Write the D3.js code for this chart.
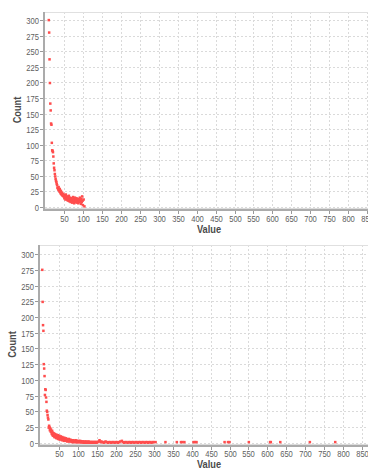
<!DOCTYPE html>
<html>
<head>
<meta charset="utf-8">
<script src="https://cdn.jsdelivr.net/npm/d3@7"></script>
<style>
  html, body { margin: 0; padding: 0; background: #fff; overflow: hidden; }
  svg { display: block; font-family: "Liberation Sans", Arial, sans-serif; }
  .tick-label { font-size: 9.5px; fill: #606060; }
  .axis-title { font-size: 10.5px; font-weight: bold; fill: #4a4a4a; }
</style>
</head>
<body>
<div id="chart"></div>
<script>
// x tick labels and y tick labels shared by both panels
const xTicks = [50, 100, 150, 200, 250, 300, 350, 400, 450, 500, 550, 600, 650, 700, 750, 800, 850];
const yTicks = [0, 25, 50, 75, 100, 125, 150, 175, 200, 225, 250, 275, 300];

// top panel: value -> count
const topValues = [10, 11, 12, 13, 14, 15, 16, 17, 18, 19, 20, 21, 22, 23, 24, 25, 26, 27, 28, 29,
  30, 31, 32, 33, 34, 35, 36, 37, 38, 39, 40, 41, 42, 43, 44, 45, 46, 47, 48, 49,
  50, 51, 52, 53, 54, 55, 56, 57, 58, 59, 60, 61, 62, 63, 64, 65, 66, 67, 68, 69,
  70, 71, 72, 73, 74, 75, 76, 77, 78, 79, 80, 81, 82, 83, 84, 85, 86, 87, 88, 89,
  90, 91, 92, 93, 94, 95, 96, 97, 98, 99, 100, 102, 104];
const topCounts = [300, 280, 237, 199, 166, 155, 134, 132, 103, 91, 90, 88, 81, 70, 63, 59, 53, 49, 45, 42,
  40, 37, 35, 31, 30, 28, 32, 27, 25, 29, 24, 22, 26, 21, 20, 23, 19, 18, 21, 17,
  19, 14, 18, 16, 12, 20, 15, 13, 17, 11, 16, 14, 10, 18, 12, 9, 15, 13, 8, 11,
  14, 10, 7, 12, 16, 9, 13, 6, 11, 15, 8, 12, 10, 14, 7, 11, 9, 13, 6, 10,
  12, 8, 15, 9, 11, 5, 13, 8, 17, 10, 3, 12, 1];

// bottom panel: value -> count
const bottomValues = [6, 7, 8, 9, 10, 11, 12, 13, 14, 15, 16, 17, 18, 19, 20, 21, 22, 23, 24, 25,
  26, 27, 28, 29, 30, 31, 32, 33, 34, 35, 36, 37, 38, 39, 40, 41, 42, 43, 44, 45,
  46, 47, 48, 49, 50, 51, 52, 53, 54, 55, 56, 57, 58, 59, 60, 61, 62, 63, 64, 65,
  66, 67, 68, 69, 70, 71, 72, 73, 74, 75, 76, 77, 78, 79, 80, 81, 82, 83, 84, 85,
  86, 87, 88, 89, 90, 91, 92, 93, 94, 95, 96, 97, 98, 99, 100, 101, 102, 103, 104, 105,
  106, 107, 108, 109, 110, 111, 112, 113, 114, 115, 116, 117, 118, 119, 120, 121, 122, 123, 124, 125,
  126, 127, 128, 129, 130, 131, 132, 133, 134, 135, 136, 137, 138, 139, 140, 141, 142, 143, 144, 145,
  146, 147, 148, 149, 150, 152, 155, 157, 160, 162, 165, 168, 170, 173, 176, 179, 182, 185, 188, 191,
  194, 197, 200, 203, 206, 209, 212, 216, 219, 222, 225, 228, 231, 234, 237, 240, 243, 246, 249, 252,
  255, 258, 261, 264, 267, 270, 273, 276, 279, 282, 285, 288, 291, 294, 297, 300,
  305, 331, 361, 372, 376, 381, 405, 409, 413, 487, 496, 500, 551, 607, 609, 634, 712, 779];
const bottomCounts = [275, 224, 187, 178, 125, 118, 106, 76, 85, 84, 72, 65, 51, 49, 44, 40, 37, 24, 27, 25,
  20, 23, 18, 21, 17, 14, 19, 12, 16, 11, 15, 13, 9, 14, 10, 12, 8, 13, 7, 11,
  9, 12, 6, 10, 8, 11, 5, 9, 7, 10, 6, 8, 4, 9, 5, 7, 6, 3, 8, 5,
  6, 4, 7, 3, 5, 6, 2, 4, 5, 3, 6, 2, 4, 3, 5, 2, 3, 4, 1, 3,
  2, 4, 1, 3, 2, 3, 1, 2, 4, 1, 2, 3, 1, 2, 1, 3, 2, 1, 2, 1,
  3, 1, 2, 1, 2, 1, 1, 2, 1, 0, 1, 2, 1, 0, 1, 1, 2, 0, 1, 1,
  0, 1, 2, 1, 0, 1, 1, 0, 1, 1, 0, 1, 1, 0, 1, 0, 1, 1, 0, 1,
  0, 1, 1, 0, 1, 1, 2, 4, 1, 2, 1, 0, 1, 2, 1, 0, 1, 1, 0, 1,
  1, 0, 1, 1, 0, 1, 2, 3, 1, 0, 1, 1, 0, 1, 1, 0, 1, 1, 0, 1,
  1, 0, 1, 1, 0, 1, 1, 0, 1, 1, 0, 1, 1, 0, 1, 1,
  1, 1, 1, 1, 1, 1, 1, 1, 1, 1, 1, 1, 1, 1, 1, 1, 1, 1];

const svg = d3.select("#chart").append("svg")
  .attr("width", 368)
  .attr("height", 468);

// narrow labels: scale glyphs horizontally around the anchor point
const SQ = 0.8;

function drawPanel(cfg) {
  const x = d3.scaleLinear().domain([0, 900]).range([cfg.left, cfg.left + 900 * 0.379]);
  const y = d3.scaleLinear().domain([cfg.yMin, cfg.yMax]).range([cfg.bottom, cfg.top]);
  const right = 368;

  const g = svg.append("g");

  // grid
  g.append("g").selectAll("line")
    .data(xTicks)
    .join("line")
      .attr("x1", d => Math.round(x(d)) + 0.5)
      .attr("x2", d => Math.round(x(d)) + 0.5)
      .attr("y1", cfg.top)
      .attr("y2", cfg.bottom)
      .attr("stroke", "#dadada")
      .attr("stroke-dasharray", "2,2");

  g.append("g").selectAll("line")
    .data(yTicks)
    .join("line")
      .attr("x1", cfg.left)
      .attr("x2", right)
      .attr("y1", d => Math.round(y(d)) + 0.5)
      .attr("y2", d => Math.round(y(d)) + 0.5)
      .attr("stroke", "#dadada")
      .attr("stroke-dasharray", "2,2");

  // plot outline
  g.append("line")
    .attr("x1", cfg.left).attr("x2", right)
    .attr("y1", cfg.top + 0.5).attr("y2", cfg.top + 0.5)
    .attr("stroke", "#e0e0e0");

  // axis lines (slightly offset, JFreeChart style)
  g.append("line")
    .attr("x1", cfg.left - 1).attr("x2", cfg.left - 1)
    .attr("y1", cfg.top).attr("y2", cfg.bottom + 2)
    .attr("stroke", "#ababab").attr("stroke-width", 2);
  g.append("line")
    .attr("x1", cfg.left - 2).attr("x2", right)
    .attr("y1", cfg.bottom + 2).attr("y2", cfg.bottom + 2)
    .attr("stroke", "#ababab").attr("stroke-width", 2);
  g.append("line")
    .attr("x1", cfg.left).attr("x2", right)
    .attr("y1", cfg.bottom + 0.5).attr("y2", cfg.bottom + 0.5)
    .attr("stroke", "#dcdcdc");

  // y ticks
  const yt = g.append("g").selectAll("g")
    .data(yTicks)
    .join("g")
      .attr("transform", d => `translate(0,${Math.round(y(d)) + 0.5})`);
  yt.append("line")
    .attr("x1", cfg.left - 5).attr("x2", cfg.left - 2)
    .attr("stroke", "#999");
  yt.append("text")
    .attr("class", "tick-label")
    .attr("transform", `translate(${cfg.left - 6},0) scale(${SQ},1)`)
    .attr("dy", "0.34em")
    .attr("text-anchor", "end")
    .text(d => d);

  // x ticks
  const xt = g.append("g").selectAll("g")
    .data(xTicks)
    .join("g")
      .attr("transform", d => `translate(${Math.round(x(d)) + 0.5},0)`);
  xt.append("line")
    .attr("y1", cfg.bottom + 3).attr("y2", cfg.bottom + 6)
    .attr("stroke", "#999");
  xt.append("text")
    .attr("class", "tick-label")
    .attr("transform", `translate(0,${cfg.bottom + cfg.tickDy}) scale(${SQ},1)`)
    .attr("text-anchor", "middle")
    .text(d => d);

  // titles
  g.append("text")
    .attr("class", "axis-title")
    .attr("transform", `translate(209,${cfg.bottom + cfg.valueDy}) scale(0.88,1)`)
    .attr("text-anchor", "middle")
    .text("Value");
  g.append("text")
    .attr("class", "axis-title")
    .attr("transform", `translate(${cfg.countX},${(cfg.top + cfg.bottom) / 2}) rotate(-90) scale(0.88,1)`)
    .attr("text-anchor", "middle")
    .text("Count");

  // points
  const pts = cfg.values.map((v, i) => ({ v, c: cfg.counts[i] }));
  g.append("g").selectAll("rect")
    .data(pts)
    .join("rect")
      .attr("x", d => x(d.v) - 1.25)
      .attr("y", d => y(d.c) - 1.25)
      .attr("width", 2.5)
      .attr("height", 2.5)
      .attr("fill", "#ff4d4d");
}

drawPanel({
  left: 45, top: 12, bottom: 208,
  yMin: -1.6, yMax: 313,
  countX: 21, tickDy: 14, valueDy: 25,
  values: topValues, counts: topCounts
});

drawPanel({
  left: 40, top: 245, bottom: 444,
  yMin: -2, yMax: 314.5,
  countX: 16, tickDy: 13, valueDy: 24,
  values: bottomValues, counts: bottomCounts
});
</script>
</body>
</html>
